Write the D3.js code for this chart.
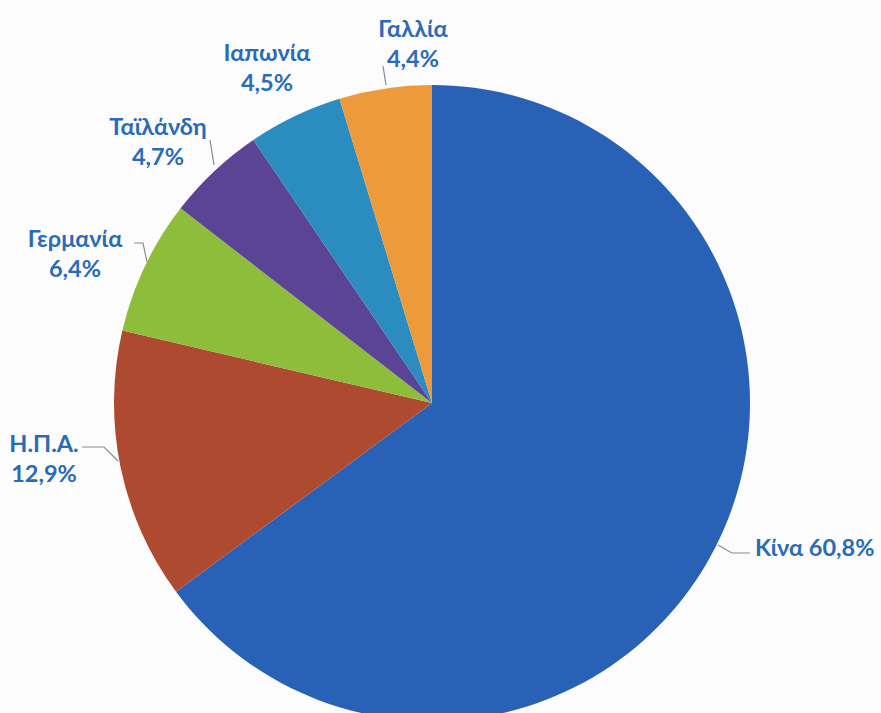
<!DOCTYPE html>
<html><head><meta charset="utf-8">
<script src="https://cdn.jsdelivr.net/npm/d3@7"></script>
<style>body{margin:0;background:#fcfcfc;}svg{display:block;}</style>
</head><body>
<svg id="chart" width="881" height="713"></svg>
<script>
const categories = ["Κίνα", "Η.Π.Α.", "Γερμανία", "Ταϊλάνδη", "Ιαπωνία", "Γαλλία"];
const values = [60.8, 12.9, 6.4, 4.7, 4.5, 4.4];
const valueLabels = ["60,8%", "12,9%", "6,4%", "4,7%", "4,5%", "4,4%"];
const colors = ["#2961b6", "#ae4a30", "#8dbd3b", "#5b4495", "#2b8cbf", "#ed9a3b"];

const svg = d3.select("#chart");
const cx = 432, cy = 403, r = 318;
const data = categories.map((c, i) => ({name: c, value: values[i], label: valueLabels[i], color: colors[i]}));
const pie = d3.pie().sort(null).value(d => d.value);
const arcs = pie(data);
const arc = d3.arc().innerRadius(0).outerRadius(r);
const g = svg.append("g").attr("transform", `translate(${cx},${cy})`);
g.selectAll("path").data(arcs).join("path")
  .attr("d", arc).attr("fill", d => d.data.color);

const labelPos = [
  {x: 755, y: 556, anchor: "start", one: true, line: [[718,545],[732,553],[750,553]]},
  {x: 44, y: 452, anchor: "middle", line: [[82,447],[104,447],[118,461]]},
  {x: 75, y: 247, anchor: "middle", line: [[134,243],[143,243],[147,262]]},
  {x: 158, y: 135, anchor: "middle", line: [[210,140],[214,165]]},
  {x: 267, y: 61, anchor: "middle", line: null},
  {x: 413, y: 37, anchor: "middle", line: [[383,66],[386,85]]}
];
const lab = svg.append("g");
arcs.forEach((a, i) => {
  const p = labelPos[i];
  if (p.line) {
    lab.append("path").attr("d", d3.line()(p.line))
      .attr("fill", "none").attr("stroke", "#8a8a8a").attr("stroke-width", 1.2);
  }
  const t = lab.append("text").attr("x", p.x).attr("y", p.y)
    .attr("text-anchor", p.anchor)
    .attr("font-family", "Lato, 'Open Sans', sans-serif")
    .attr("font-weight", "bold").attr("font-size", 23.5)
    .attr("fill", "#2a6bb7");
  if (p.one) {
    t.text(a.data.name + " " + a.data.label);
  } else {
    t.append("tspan").attr("x", p.x).text(a.data.name);
    t.append("tspan").attr("x", p.x).attr("dy", 30).text(a.data.label);
  }
});
</script>
</body></html>
